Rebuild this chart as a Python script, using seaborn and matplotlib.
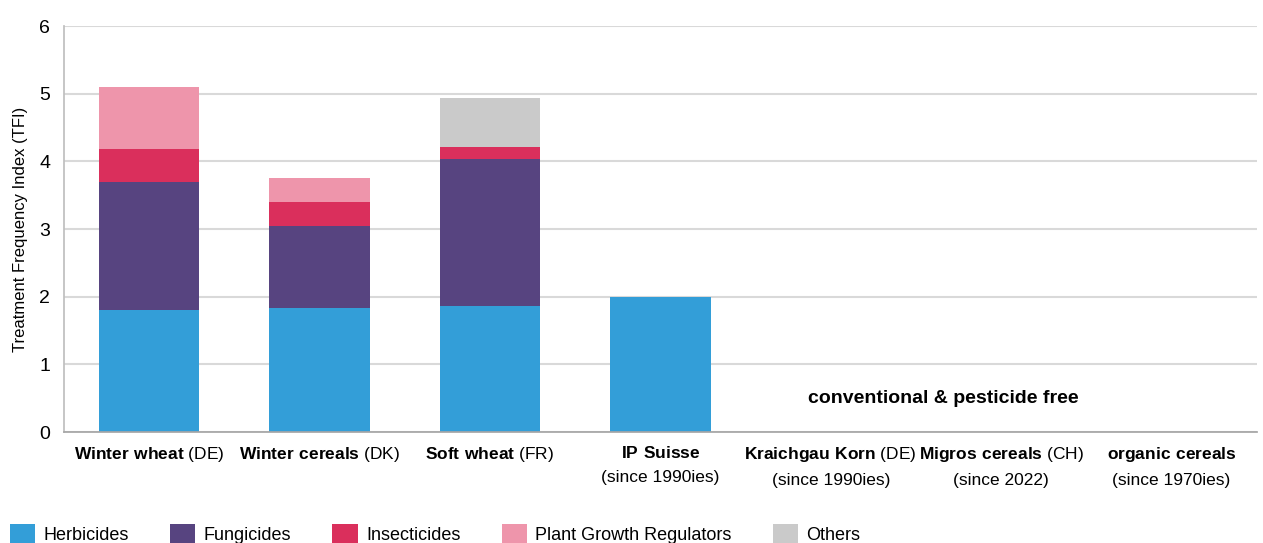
import matplotlib
import seaborn as sns
import numpy as np
import pandas as pd
import matplotlib.pyplot as plt
from matplotlib.patches import Patch

categories = ["$\\mathbf{Winter\\ wheat}$ (DE)",
              "$\\mathbf{Winter\\ cereals}$ (DK)",
              "$\\mathbf{Soft\\ wheat}$ (FR)",
              "$\\mathbf{IP\\ Suisse}$\n(since 1990ies)",
              "$\\mathbf{Kraichgau\\ Korn}$ (DE)\n(since 1990ies)",
              "$\\mathbf{Migros\\ cereals}$ (CH)\n(since 2022)",
              "$\\mathbf{organic\\ cereals}$\n(since 1970ies)"]
series = ["Herbicides", "Fungicides", "Insecticides", "Plant Growth Regulators", "Others"]
herbicides = [1.80, 1.83, 1.86, 2.00, 0, 0, 0]
fungicides = [1.89, 1.21, 2.17, 0, 0, 0, 0]
insecticides = [0.50, 0.36, 0.18, 0, 0, 0, 0]
growth_regulators = [0.91, 0.35, 0, 0, 0, 0, 0]
others = [0, 0, 0.72, 0, 0, 0, 0]
colors = ["#339ED8", "#574480", "#DA2F5C", "#EE95AB", "#CACACA"]

sns.set_theme(style="white")
plt.rcParams['font.family'] = ['Liberation Sans', 'DejaVu Sans']
plt.rcParams['mathtext.fontset'] = 'custom'
plt.rcParams['mathtext.rm'] = 'Liberation Sans'
plt.rcParams['mathtext.bf'] = 'Liberation Sans:bold'
plt.rcParams['text.color'] = 'black'
plt.rcParams['axes.labelcolor'] = 'black'
plt.rcParams['xtick.color'] = 'black'
plt.rcParams['ytick.color'] = 'black'

df = pd.DataFrame({"category": categories, "Herbicides": herbicides,
                   "Fungicides": fungicides, "Insecticides": insecticides,
                   "Plant Growth Regulators": growth_regulators, "Others": others})

fig = plt.figure(figsize=(12.63, 5.43), dpi=100)
ax = fig.add_axes([0.0507, 0.2044, 0.9443, 0.7476])

bottom = np.zeros(len(categories))
for name, col in zip(series, colors):
    sns.barplot(data=df, x="category", y=name, bottom=bottom, color=col,
                width=0.59, ax=ax, saturation=1, linewidth=0)
    bottom = bottom + df[name].values

ax.set_ylim(0, 6)
ax.set_xlim(-0.5, len(categories) - 0.5)
ax.yaxis.grid(True, color="#D9D9D9", linewidth=1.5)
ax.set_axisbelow(True)
for s in ["top", "right"]:
    ax.spines[s].set_visible(False)
ax.spines["left"].set_color("#BFBFBF")
ax.spines["bottom"].set_color("#A6A6A6")
ax.set_ylabel("Treatment Frequency Index (TFI)", fontsize=12, labelpad=8)
ax.set_xlabel("")
ax.tick_params(axis="x", which="major", length=0, labelsize=12.5, pad=9)
ax.tick_params(axis="y", length=0, labelsize=14, pad=10)
ax.set_xticks(np.arange(-0.5, len(categories)), minor=True)
ax.tick_params(axis="x", which="minor", length=5, color="#A6A6A6", direction="out")
ax.set_yticks(range(0, 7))
for t in ax.get_xticklabels():
    t.set_linespacing(1.75)

ax.text(4.66, 0.5, "conventional & pesticide free", fontsize=14, fontweight="bold",
        ha="center", va="center")

handles = [Patch(facecolor=c, edgecolor="none") for c in colors]
fig.legend(handles, series, loc="lower left", bbox_to_anchor=(0.002, -0.016), ncol=5,
           frameon=False, fontsize=13, handlelength=1.4, handleheight=1.4,
           handletextpad=0.45, columnspacing=2.3, borderaxespad=0)

plt.savefig("out.png", dpi=100)
